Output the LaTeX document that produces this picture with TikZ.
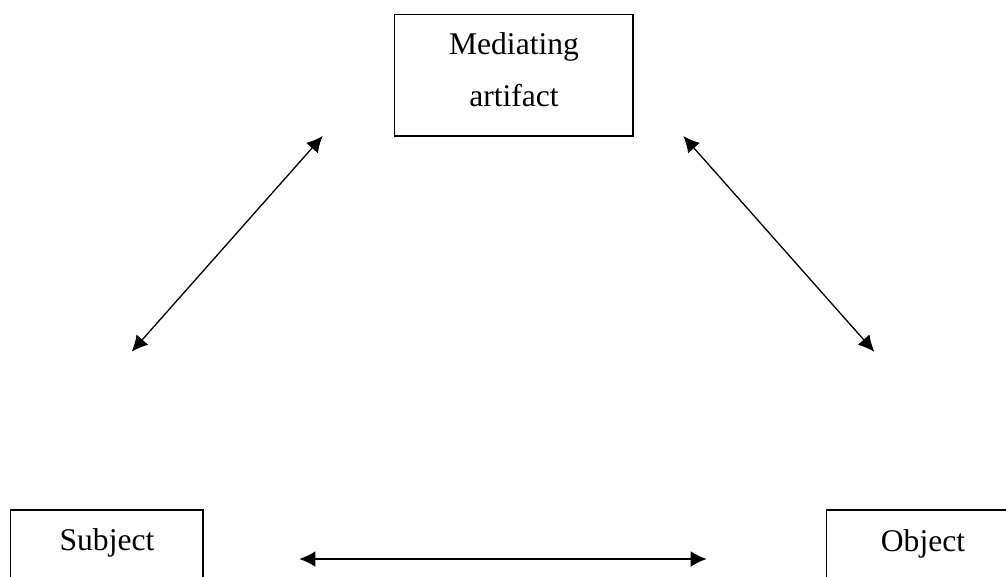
\documentclass[tikz,border=0pt]{standalone}
\usepackage{fontspec}
\setmainfont{Liberation Serif}
\usetikzlibrary{arrows.meta}
\begin{document}
\begin{tikzpicture}[x=0.5pt,y=-0.5pt,
  box/.style={draw=black,line width=0.65pt,rectangle,inner sep=0pt},
  lbl/.style={anchor=base,inner sep=0pt,font=\fontsize{15.8}{26}\selectfont},
  conn/.style={line width=0.65pt,{Latex[length=8pt,width=7.8pt]}-{Latex[length=8pt,width=7.8pt]}}]
\useasboundingbox (0,0) rectangle (1006,577);
\clip (0,0) rectangle (1006,577);
\node[box,minimum width=238.3*0.5pt,minimum height=121.3*0.5pt] (med) at (513.9,75.3) {};
\node[box,minimum width=192.3*0.5pt,minimum height=140*0.5pt] (subj) at (106.9,580) {};
\node[box,minimum width=240*0.5pt,minimum height=140*0.5pt] (obj) at (946.7,580) {};
\node[lbl] (medt1) at (514,55) {Mediating};
\node[lbl] (medt2) at (514,107) {artifact};
\node[lbl] (subjt) at (107,550) {Subject};
\node[lbl] (objt) at (923,551) {Object};
\coordinate (a1) at (131.7,351.7);
\coordinate (a2) at (322.7,136);
\coordinate (b1) at (683.3,136);
\coordinate (b2) at (874.3,351.7);
\coordinate (c1) at (299.3,559);
\coordinate (c2) at (706.7,559);
\draw[conn] (a1) -- (a2);
\draw[conn] (b1) -- (b2);
\draw[conn] (c1) -- (c2);
\end{tikzpicture}
\end{document}
